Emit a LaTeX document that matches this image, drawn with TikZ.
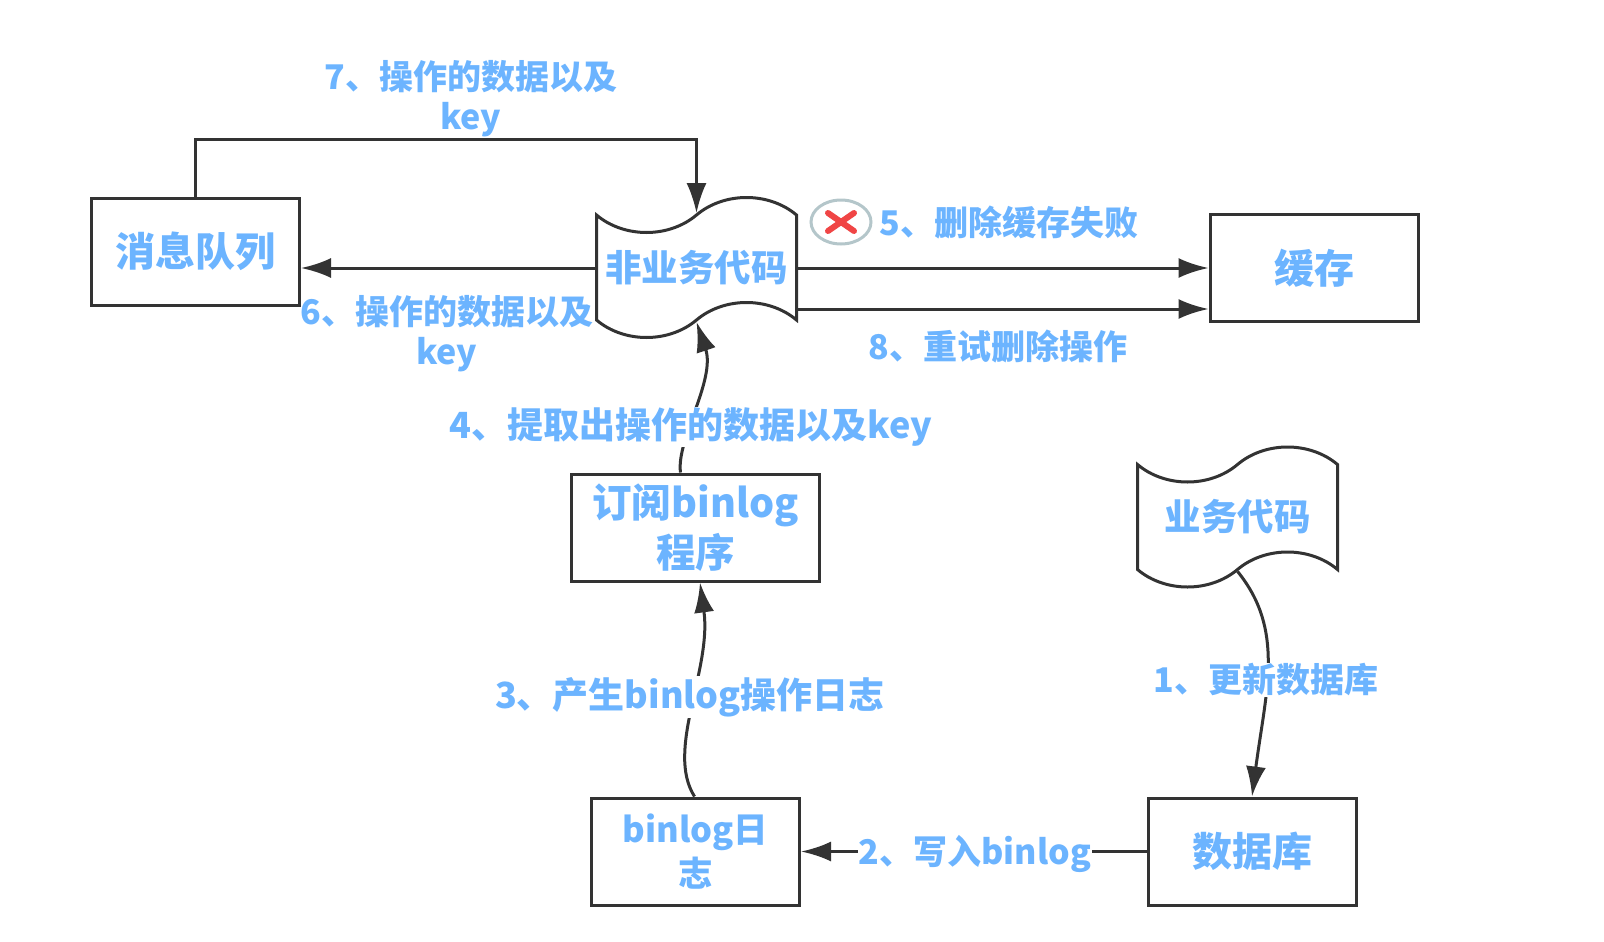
\documentclass[tikz,border=0pt]{standalone}
\usepackage{fontspec}
\setmainfont{Noto Sans CJK SC}
\usetikzlibrary{arrows.meta,shapes.geometric,shapes.symbols}
\definecolor{labelblue}{HTML}{6CB4FF}
\definecolor{linegray}{HTML}{333333}
\definecolor{failgray}{HTML}{B4C6CA}
\definecolor{failred}{HTML}{F04545}
\tikzset{
  boxnode/.style={draw=linegray,line width=3pt,fill=white,minimum width=208pt,minimum height=107pt,
                  text=labelblue,font=\fontsize{40}{50}\bfseries\selectfont,align=center,inner sep=0pt},
  wavenode/.style={shape=tape,tape bend top=in and out,tape bend bottom=in and out,tape bend height=35pt,
                   draw=linegray,line width=3pt,fill=white,minimum width=200pt,minimum height=140pt,
                   text=labelblue,font=\fontsize{36.5}{42}\bfseries\selectfont,inner sep=0pt},
  flowlabel/.style={text=labelblue,font=\fontsize{34}{40}\bfseries\selectfont,align=center,inner sep=1pt},
  widelabel/.style={flowlabel,font=\fontsize{36}{40}\bfseries\selectfont},
  flow/.style={draw=linegray,line width=3pt,-{Latex[length=30pt,width=20pt]}},
}

\begin{document}
\begin{tikzpicture}[x=1pt,y=-1pt]
\useasboundingbox (0,0) rectangle (1604,942);

% Boxes
\node[boxnode] (queue) at (195.5,251.5) {\raisebox{-2pt}{消息队列}};
\node[boxnode] (cache) at (1314,268) {缓存};
\node[boxnode,minimum width=248pt,font=\fontsize{39.5}{50}\bfseries\selectfont] (subscriber) at (695.5,527.5) {订阅binlog\\程序};
\node[boxnode,font=\fontsize{34.5}{44}\bfseries\selectfont] (binlogfile) at (695.5,851.5) {binlog日\\志};
\node[boxnode] (database) at (1252,851.5) {\raisebox{-1pt}{数据库}};

% Wavy documents
\node[wavenode] (other) at (696.5,267.5) {\raisebox{-4pt}{非业务代码}};
\node[wavenode] (business) at (1237.5,517) {\raisebox{-4pt}{业务代码}};

% Upper connectors
\draw[flow] (queue.north) -- ++(0,-57) -| (other.north);
\draw[flow] (other.west |- 0,268) -- (queue.east |- 0,268);
\draw[flow] (other.east |- 0,268) -- (cache.west |- 0,268);
\draw[flow] (other.east |- 0,309) -- (cache.west |- 0,309);

% Failed mark
\node[ellipse,draw=failgray,line width=3pt,fill=white,minimum width=60pt,minimum height=44pt,inner sep=0pt] (fail) at (841,222) {};
\draw[failred,line width=6pt,line cap=round] ([shift={(-13,-9)}]fail.center) -- ([shift={(13,9)}]fail.center);
\draw[failred,line width=6pt,line cap=round] ([shift={(13,-9)}]fail.center) -- ([shift={(-13,9)}]fail.center);

% Lower connectors
\draw[flow] ([xshift=-15pt]subscriber.north) .. controls (676,440) and (716,380) .. (other.south);
\draw[flow] ([xshift=-1pt]binlogfile.north) .. controls (665,750) and (712,670) .. (subscriber.south -| 700,0);
\draw[flow] (database.west) -- (binlogfile.east);
\draw[flow] (business.south) .. controls (1285,630) and (1266,690) .. (database.north);

% Labels on connectors
\node[widelabel,fill=white] (label4) at (691,427) {4、提取出操作的数据以及key};
\node[widelabel,fill=white] (label3) at (690,697) {3、产生binlog操作日志};
\node[flowlabel,fill=white] (label2) at (975,854) {2、写入binlog};
\node[flowlabel,fill=white] (label1) at (1266,680) {1、更新数据库};

% Labels beside connectors
\node[flowlabel] (label7) at (471,99) {7、操作的数据以及\\key};
\node[flowlabel] (label6) at (447,334) {6、操作的数据以及\\key};
\node[flowlabel] (label5) at (1009,223) {5、删除缓存失败};
\node[flowlabel] (label8) at (998,347) {8、重试删除操作};

\end{tikzpicture}
\end{document}
